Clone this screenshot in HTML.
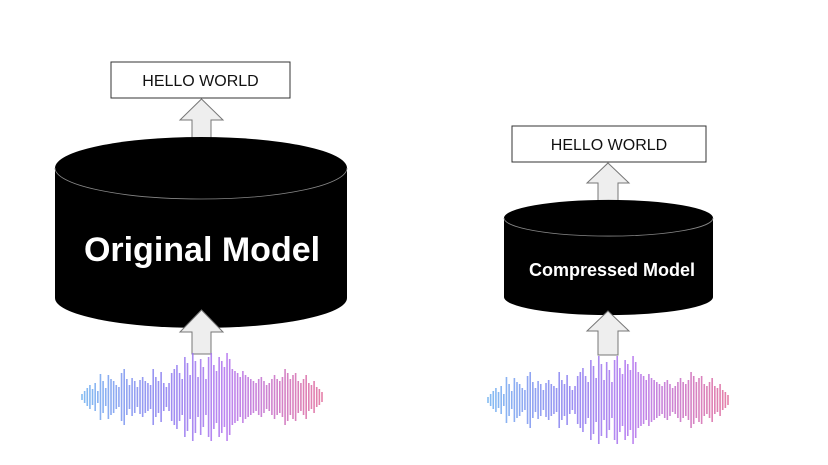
<!DOCTYPE html>
<html><head><meta charset="utf-8"><style>
body{margin:0;background:#fff;}
svg{display:block;font-family:"Liberation Sans",Arial,sans-serif;}
</style></head><body>
<svg width="828" height="465" viewBox="0 0 828 465">
<!-- original -->
<rect x="111" y="62" width="179" height="36" fill="#fff" stroke="#333" stroke-width="1"/>
<text x="200.5" y="86" text-anchor="middle" font-size="16" fill="#111">HELLO WORLD</text>
<polygon points="201.5,99 223,120 211,120 211,143 192,143 192,120 180,120" fill="#eee" stroke="#777"/>
<g>
<path d="M55,168 A146,31 0 0 1 347,168 L347,298 A146,30 0 0 1 55,298 Z" fill="#000"/>
<path d="M55,168 A146,31 0 0 0 347,168" fill="none" stroke="#888" stroke-width="0.8"/>
</g>
<text x="202" y="261" text-anchor="middle" font-size="34" font-weight="bold" fill="#fff">Original Model</text>
<polygon points="201.5,310 223,332 211,332 211,354 192,354 192,332 180,332" fill="#eee" stroke="#777"/>
<g id="w1"></g>
<!-- compressed -->
<rect x="512" y="126" width="194" height="36" fill="#fff" stroke="#333" stroke-width="1"/>
<text x="609" y="150" text-anchor="middle" font-size="16" fill="#111">HELLO WORLD</text>
<polygon points="608,163 629,183 618,183 618,206 598,206 598,183 587,183" fill="#eee" stroke="#777"/>
<g>
<path d="M504,218 A104,18 0 0 1 713,218 L713,297 A104,18 0 0 1 504,297 Z" fill="#000"/>
<path d="M504,218 A104,18 0 0 0 713,218" fill="none" stroke="#888" stroke-width="0.8"/>
</g>
<text x="612" y="276" text-anchor="middle" font-size="18" font-weight="bold" fill="#fff">Compressed Model</text>
<polygon points="608,311 629,331 618,331 618,355 598,355 598,331 587,331" fill="#eee" stroke="#777"/>
<g id="w2"></g>
</svg>
<script>
const amps=[3,6,9,12,8,14,6,23,16,9,22,18,16,12,10,24,28,18,12,19,16,10,17,20,16,14,12,28,20,16,25,14,10,14,24,28,32,24,18,40,34,22,44,36,20,38,30,18,40,44,32,26,40,36,30,44,38,28,26,24,20,26,22,20,18,16,14,18,20,16,12,14,18,22,18,16,20,28,24,18,22,24,16,14,18,22,14,12,16,10,8,5];
function wave(id,x0,x1,cy){
  const g=document.getElementById(id);
  const step=(x1-x0)/(amps.length-1);
  amps.forEach((a,i)=>{
    const r=document.createElementNS('http://www.w3.org/2000/svg','rect');
    
    
    const t=i/(amps.length-1);
    r.setAttribute('x',x0+i*step-0.8);r.setAttribute('width',1.6);
    r.setAttribute('y',cy-a);r.setAttribute('height',2*a);
    const c=t<0.35?[111+(138-111)*t/0.35,176-(176-122)*t/0.35,240]:t<0.6?[138+(176-138)*(t-0.35)/0.25,122-(122-112)*(t-0.35)/0.25,240-(240-238)*(t-0.35)/0.25]:[176+(224-176)*(t-0.6)/0.4,112-(112-106)*(t-0.6)/0.4,238-(238-154)*(t-0.6)/0.4];
    r.setAttribute('fill','rgb('+c.map(Math.round).join(',')+')');
    r.setAttribute('opacity','0.85');
    g.appendChild(r);
  });
}
wave('w1',82,322,397);
wave('w2',488,728,400);
</script>
</body></html>
